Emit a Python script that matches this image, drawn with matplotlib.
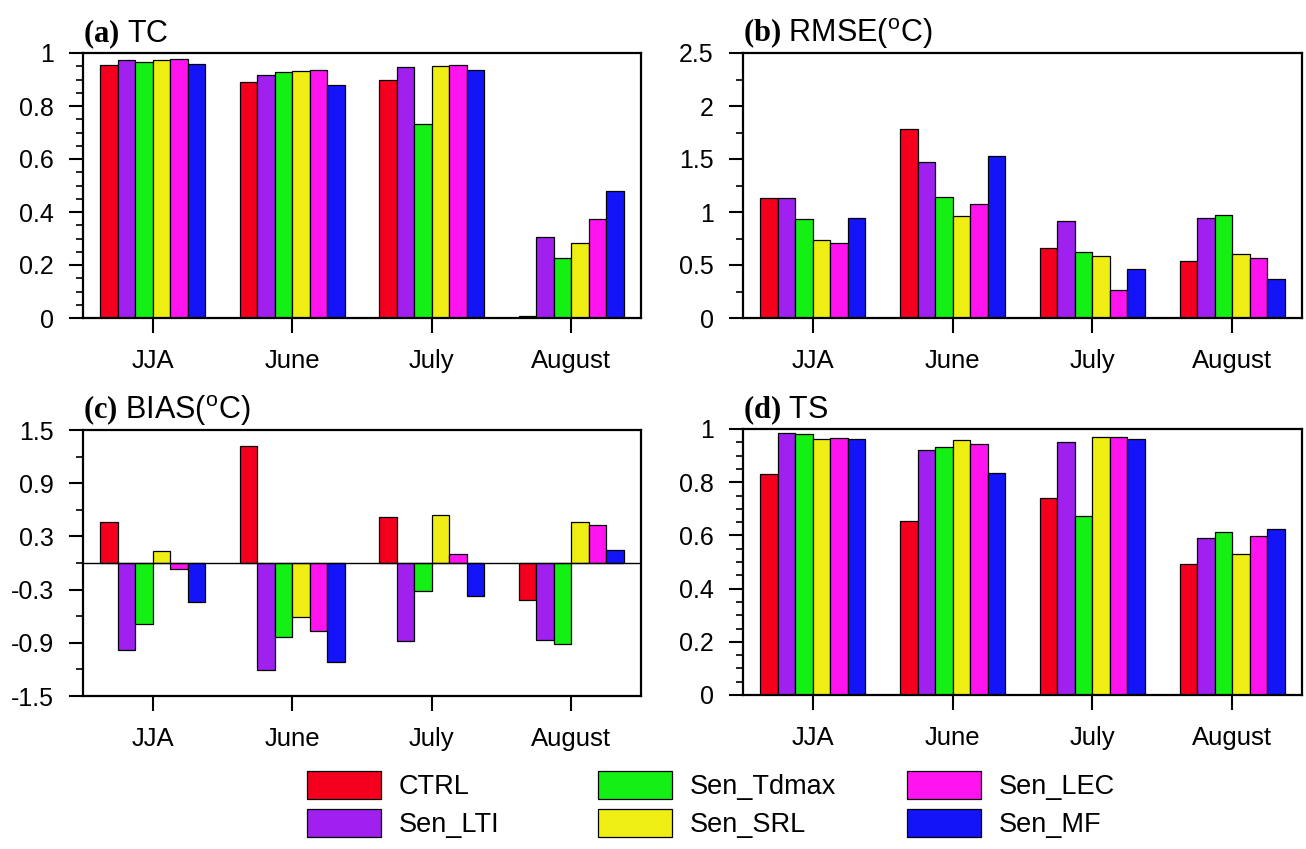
"""Four-panel bar chart of TC, RMSE, BIAS and TS for the sensitivity runs."""

import matplotlib

matplotlib.use("Agg")
import matplotlib.pyplot as plt
import numpy as np
from matplotlib.patches import Patch
from matplotlib.ticker import MultipleLocator

categories = ["JJA", "June", "July", "August"]
series = ["CTRL", "Sen_LTI", "Sen_Tdmax", "Sen_SRL", "Sen_LEC", "Sen_MF"]
colors = ["#f4001e", "#a020f0", "#14f014", "#eeee14", "#ff14f0", "#1414f8"]

# rows follow `series`, columns follow `categories`
tc_values = [
    [0.956, 0.891, 0.897, 0.009],
    [0.975, 0.918, 0.946, 0.307],
    [0.967, 0.928, 0.731, 0.225],
    [0.975, 0.933, 0.952, 0.283],
    [0.976, 0.936, 0.953, 0.373],
    [0.960, 0.881, 0.935, 0.479],
]
rmse_values = [
    [1.130, 1.780, 0.656, 0.534],
    [1.134, 1.476, 0.914, 0.939],
    [0.936, 1.146, 0.622, 0.967],
    [0.738, 0.964, 0.587, 0.600],
    [0.710, 1.071, 0.267, 0.562],
    [0.939, 1.533, 0.465, 0.371],
]
bias_values = [
    [0.467, 1.321, 0.516, -0.418],
    [-0.982, -1.208, -0.877, -0.869],
    [-0.689, -0.836, -0.316, -0.915],
    [0.139, -0.613, 0.542, 0.459],
    [-0.064, -0.768, 0.098, 0.433],
    [-0.444, -1.114, -0.373, 0.151],
]
ts_values = [
    [0.830, 0.656, 0.740, 0.494],
    [0.984, 0.922, 0.951, 0.591],
    [0.981, 0.934, 0.673, 0.611],
    [0.962, 0.959, 0.969, 0.531],
    [0.966, 0.942, 0.970, 0.599],
    [0.962, 0.835, 0.962, 0.625],
]

tc_ticks = ["0", "0.2", "0.4", "0.6", "0.8", "1"]
rmse_ticks = ["0", "0.5", "1", "1.5", "2", "2.5"]
bias_ticks = ["-1.5", "-0.9", "-0.3", "0.3", "0.9", "1.5"]
ts_ticks = tc_ticks

plt.rcParams["font.family"] = ["Liberation Sans", "DejaVu Sans"]
plt.rcParams["mathtext.fontset"] = "custom"
plt.rcParams["mathtext.rm"] = "Liberation Sans"
plt.rcParams["mathtext.bf"] = "Liberation Serif:bold"
plt.rcParams["axes.unicode_minus"] = False

W, H = 1306, 849
BAR_W = 0.125


def panel(fig, rect, values, ticks, ylim, major, minor, title, zero_line=False):
    left, top, right, bottom = rect
    ax = fig.add_axes([left / W, 1 - bottom / H, (right - left) / W, (bottom - top) / H])
    x = np.arange(len(categories))
    for i, (vals, color) in enumerate(zip(values, colors)):
        ax.bar(x + (i - 2.5) * BAR_W, vals, BAR_W, color=color,
               edgecolor="black", linewidth=0.9, zorder=2)
    if zero_line:
        ax.axhline(0, color="black", linewidth=1.0, zorder=3)

    ax.set_xlim(-0.5, 3.5)
    ax.set_ylim(*ylim)
    ax.set_xticks(x, categories)
    ax.set_yticks(np.arange(ylim[0], ylim[1] + major / 2, major), ticks)
    ax.yaxis.set_minor_locator(MultipleLocator(minor))
    ax.tick_params(axis="x", direction="out", length=11, width=1.5, pad=11,
                   labelsize=18.5)
    ax.tick_params(axis="y", which="major", direction="out", length=10, width=1.5,
                   pad=11, labelsize=18)
    ax.tick_params(axis="y", which="minor", direction="out", length=5, width=1.2)
    for spine in ax.spines.values():
        spine.set_linewidth(1.6)
    ax.set_title(title, loc="left", fontsize=22, pad=8)
    return ax


def main() -> None:
    fig = plt.figure(figsize=(W / 100, H / 100), dpi=100)

    panel(fig, (83, 53, 641, 318), tc_values, tc_ticks, (0, 1), 0.2, 0.05,
          r"$\mathbf{(a)}$ TC")
    panel(fig, (743, 53, 1302, 318), rmse_values, rmse_ticks, (0, 2.5), 0.5, 0.25,
          r"$\mathbf{(b)}$ RMSE($^{\mathrm{o}}$C)")
    panel(fig, (83, 430, 641, 696), bias_values, bias_ticks, (-1.5, 1.5), 0.6, 0.3,
          r"$\mathbf{(c)}$ BIAS($^{\mathrm{o}}$C)", zero_line=True)
    panel(fig, (743, 429, 1302, 695), ts_values, ts_ticks, (0, 1), 0.2, 0.05,
          r"$\mathbf{(d)}$ TS")

    handles = [Patch(facecolor=c, edgecolor="black", linewidth=0.9) for c in colors]
    for col, x0 in enumerate((307, 598, 907)):
        fig.legend(
            handles[2 * col:2 * col + 2],
            series[2 * col:2 * col + 2],
            loc="upper left",
            bbox_to_anchor=(x0 / W, 1 - 771 / H),
            frameon=False,
            fontsize=19.5,
            borderpad=0,
            borderaxespad=0,
            handlelength=2.73,
            handleheight=1.22,
            labelspacing=0.33,
            handletextpad=0.66,
        )

    fig.savefig("out.png", dpi=100)


if __name__ == "__main__":
    main()
